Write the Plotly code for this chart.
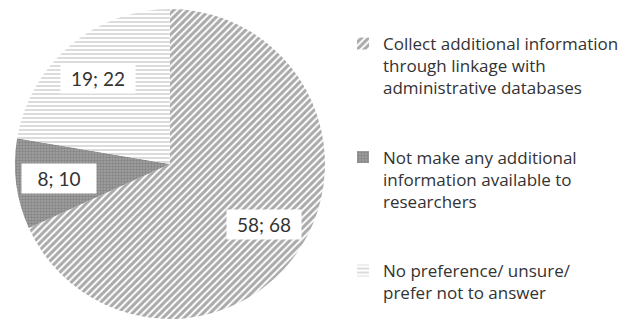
import math
import plotly.graph_objects as go

categories = [
    "Collect additional information<br>through linkage with<br>administrative databases",
    "Not make any additional<br>information available to<br>researchers",
    "No preference/ unsure/<br>prefer not to answer",
]
counts = [58, 8, 19]
percents = [68, 10, 22]
pad_lines = [2, 2, 0]

W, H = 642, 324
dom_x = [15 / W, 325 / W]
dom_y = [5 / H, 315 / H]

legend_labels = [c + "<br> " * p for c, p in zip(categories, pad_lines)]

fig = go.Figure()
fig.add_trace(go.Pie(
    labels=legend_labels,
    values=counts,
    sort=False,
    direction="clockwise",
    rotation=0,
    textinfo="none",
    hoverinfo="label+value+percent",
    domain=dict(x=dom_x, y=dom_y),
    marker=dict(
        colors=["white", "#9a9a9a", "white"],
        line=dict(width=0, color="white"),
        pattern=dict(
            shape=["/", ".", "-"],
            fgcolor=["#555555", "#666666", "#a8a8a8"],
            bgcolor=["white", "#a2a2a2", "white"],
            size=[5, 3, 4],
            solidity=[0.6, 0.5, 0.4],
            fillmode="overlay",
        ),
    ),
))

# data labels placed from the cumulative fractions
total = sum(counts)
cx = (dom_x[0] + dom_x[1]) / 2
cy = (dom_y[0] + dom_y[1]) / 2
rad_px = min((dom_x[1] - dom_x[0]) * W, (dom_y[1] - dom_y[0]) * H) / 2
k = 0.72
cum = 0
annotations = []
for c, p in zip(counts, percents):
    mid = (cum + c / 2) / total * 2 * math.pi
    cum += c
    ax = cx + k * rad_px * math.sin(mid) / W
    ay = cy + k * rad_px * math.cos(mid) / H
    annotations.append(dict(
        x=ax, y=ay, xref="paper", yref="paper",
        text=f"{c}; {p}", showarrow=False,
        font=dict(family="Lato", size=19, color="#333333"),
        bgcolor="white", borderpad=3, width=68,
        xanchor="center", yanchor="middle",
    ))

fig.update_layout(
    width=W, height=H,
    margin=dict(l=0, r=0, t=0, b=0),
    paper_bgcolor="white",
    plot_bgcolor="white",
    showlegend=True,
    legend=dict(
        x=343 / W, xanchor="left",
        y=1 - 26 / H, yanchor="top",
        valign="top",
        font=dict(family="Open Sans", size=17, color="#333333"),
        bgcolor="rgba(0,0,0,0)",
        itemclick=False, itemdoubleclick=False,
    ),
    annotations=annotations,
)

fig.write_html("out.html")
